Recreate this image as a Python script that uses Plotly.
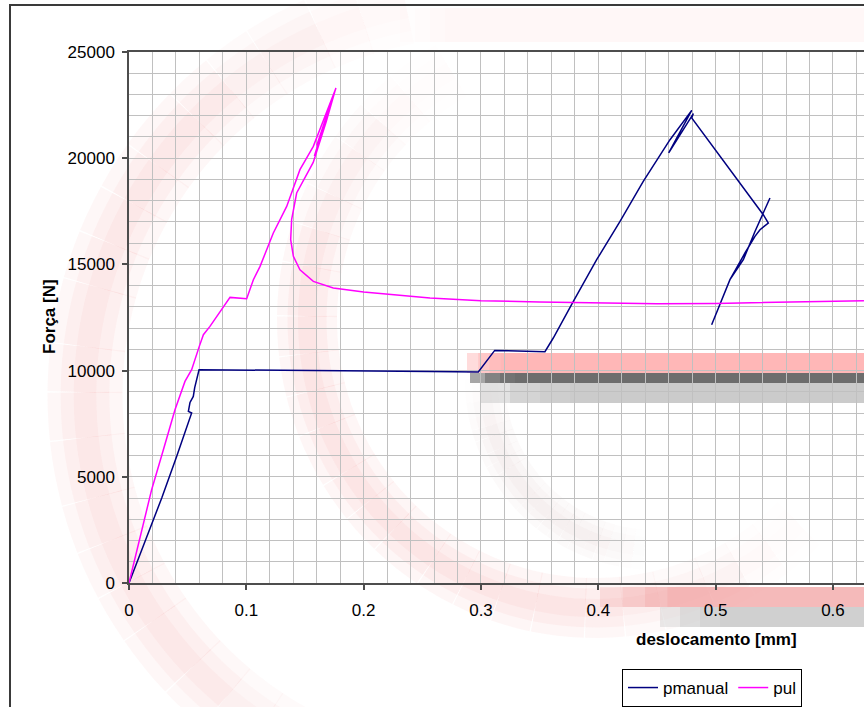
import numpy as np
import plotly.graph_objects as go

# ---- measured series -------------------------------------------------------
pmanual_x = [0.0, 0.0279, 0.0406, 0.0534, 0.0506, 0.0520, 0.0548, 0.0560, 0.0597,
             0.100, 0.150, 0.200, 0.2565, 0.2977, 0.3117, 0.3545, 0.3616, 0.3787,
             0.3986, 0.4185, 0.4383, 0.4611, 0.4796, 0.4600, 0.4810, 0.4796,
             0.5406, 0.5449, 0.5378, 0.5335, 0.5250, 0.5122, 0.4966, 0.5122,
             0.5236, 0.5335, 0.5463]
pmanual_y = [0, 4002, 5960, 8004, 8080, 8500, 8785, 9200, 10042,
             10030, 10020, 10000, 9962, 9934, 10951, 10890, 11535, 13258,
             15221, 17025, 18908, 20871, 22251, 20250, 22100, 21893,
             17340, 16949, 16634, 16319, 15537, 14280, 12161, 14280,
             15221, 16550, 18126]

pul_x = [0.0, 0.0193, 0.0293, 0.0392, 0.0477, 0.0534, 0.0599, 0.0634, 0.0690,
         0.0761, 0.0804, 0.0861, 0.1003, 0.1031, 0.1060, 0.1117, 0.1173, 0.1230,
         0.1344, 0.1457, 0.1571, 0.1685, 0.1764, 0.1600, 0.1745, 0.1580, 0.1755,
         0.1680, 0.1570, 0.1429, 0.1386, 0.1378, 0.1401, 0.1457, 0.1571, 0.1741,
         0.1884, 0.2000, 0.2565, 0.3000, 0.3500, 0.3787, 0.4200, 0.4500, 0.5000,
         0.5500, 0.6000, 0.6264]
pul_y = [0, 4393, 6276, 8159, 9492, 10042, 11140, 11690, 12081,
         12632, 13023, 13447, 13385, 13810, 14280, 14906, 15692, 16478,
         17731, 19459, 20556, 22128, 23305, 20600, 23000, 20100, 23150,
         21700, 19800, 18362, 17105, 16163, 15377, 14750, 14200, 13889,
         13776, 13700, 13418, 13290, 13230, 13210, 13170, 13150, 13160,
         13200, 13240, 13290]

x_ticks = [0, 0.1, 0.2, 0.3, 0.4, 0.5, 0.6]
x_tick_text = ["0", "0.1", "0.2", "0.3", "0.4", "0.5", "0.6"]
y_ticks = [0, 5000, 10000, 15000, 20000, 25000]
y_tick_text = ["0", "5000", "10000", "15000", "20000", "25000"]

# ---- page geometry ---------------------------------------------------------
W, H = 864, 707
L, T, B, R = 129, 52, 124, 0
PW, PH = W - L - R, H - T - B
FONT = "Liberation Sans, Arial, sans-serif"


def paper(px, py):
    return (px - L) / PW, (H - B - py) / PH


def poly_path(points):
    pts = [paper(x, y) for x, y in points]
    return "M " + " L ".join(f"{x:.4f},{y:.4f}" for x, y in pts)


def arc_points(cx, cy, r, a0, a1, n=80):
    th = np.radians(np.linspace(a0, a1, n))
    return [(cx + r * np.cos(t), cy + r * np.sin(t)) for t in th]


shapes = []


def soft_stroke(points, width, rgb, alpha, segs=24):
    # thick translucent band, tapered towards both ends
    n = len(points)
    for s in range(segs):
        i0 = s * (n - 1) // segs
        i1 = (s + 1) * (n - 1) // segs
        t = (s + 0.5) / segs
        taper = min(1.0, 4 * t, 4 * (1 - t))
        path = poly_path(points[i0:i1 + 1])
        for f in (1.0, 0.65, 0.3):
            shapes.append(dict(type="path", path=path, xref="paper", yref="paper",
                               layer="below",
                               line=dict(color=f"rgba({rgb},{alpha * taper:.3f})",
                                         width=width * f)))


def soft_rect(x0, x1, y0, y1, rgb, alpha, fade=0):
    steps = 4 if fade else 1
    a_step = 1 - (1 - alpha) ** (1 / steps)
    for i in range(steps):
        xs = x0 + fade * i / steps
        a0, b0 = paper(xs, y1)
        a1, b1 = paper(x1, y0)
        shapes.append(dict(type="rect", xref="paper", yref="paper", layer="below",
                           x0=a0, x1=a1, y0=b0, y1=b1, line=dict(width=0),
                           fillcolor=f"rgba({rgb},{a_step:.3f})"))


# faint watermark behind the chart
soft_stroke(arc_points(480, 395, 395, 95, 268), 75, "238,140,140", 0.065)
soft_stroke(arc_points(595, 320, 288, 45, 240), 60, "238,140,140", 0.075)
soft_stroke(arc_points(655, 380, 170, 90, 185), 40, "200,170,170", 0.06)
soft_rect(400, 864, 8, 42, "240,170,170", 0.10, fade=60)
soft_rect(467, 864, 353, 373, "255,175,175", 0.9, fade=45)
soft_rect(470, 864, 373, 383, "104,104,104", 0.97, fade=60)
soft_rect(480, 864, 383, 403, "200,200,200", 0.95, fade=120)
soft_rect(600, 864, 587, 607, "240,140,140", 0.6, fade=90)
soft_rect(660, 864, 607, 627, "198,198,198", 0.85, fade=80)

# outer chart frame
fx0, fy0 = paper(10, 5)
fx1, fy1 = paper(940, 760)
shapes.append(dict(type="rect", xref="paper", yref="paper", layer="above",
                   x0=fx0, y0=fy1, x1=fx1, y1=fy0,
                   line=dict(color="#3a3a3a", width=2), fillcolor="rgba(0,0,0,0)"))

fig = go.Figure()
fig.add_trace(go.Scatter(x=pmanual_x, y=pmanual_y, mode="lines", name="pmanual",
                         line=dict(color="#000080", width=1.5)))
fig.add_trace(go.Scatter(x=pul_x, y=pul_y, mode="lines", name="pul",
                         line=dict(color="#FF00FF", width=1.5)))

axis_common = dict(showline=True, linecolor="#4d4d4d", linewidth=1.5,
                   ticks="outside", ticklen=5, tickwidth=1.5, tickcolor="#4d4d4d",
                   gridcolor="#c0c0c0", gridwidth=1, zeroline=False,
                   tickfont=dict(family=FONT, size=17, color="#000"))

fig.update_xaxes(range=[0, PW / 1173.3], tickvals=x_ticks, ticktext=x_tick_text,
                 mirror=True, minor=dict(dtick=0.02, showgrid=True,
                                         gridcolor="#c0c0c0", gridwidth=1),
                 ticklabelstandoff=6, **axis_common)
fig.update_yaxes(range=[0, 25000], tickvals=y_ticks, ticktext=y_tick_text,
                 minor=dict(dtick=1000, showgrid=True, gridcolor="#c0c0c0", gridwidth=1),
                 ticklabelstandoff=4, **axis_common)

tx, ty = paper(716, 639)
yx, yy = paper(49, 317)
annotations = [
    dict(text="<b>deslocamento [mm]</b>", x=tx, y=ty, xref="paper", yref="paper",
         showarrow=False, xanchor="center", yanchor="middle",
         font=dict(family=FONT, size=17, color="#000")),
    dict(text="<b>Força [N]</b>", x=yx, y=yy, xref="paper", yref="paper",
         showarrow=False, xanchor="center", yanchor="middle", textangle=-90,
         font=dict(family=FONT, size=17, color="#000")),
]

lx, ly = paper(622, 669)
fig.update_layout(
    width=W, height=H,
    margin=dict(l=L, r=R, t=T, b=B, autoexpand=False),
    paper_bgcolor="white", plot_bgcolor="rgba(0,0,0,0)",
    shapes=shapes, annotations=annotations,
    showlegend=True,
    legend=dict(orientation="h", x=lx, y=ly, xanchor="left", yanchor="top",
                bgcolor="white", bordercolor="#000", borderwidth=1,
                font=dict(family=FONT, size=17, color="#000"),
                itemwidth=30, tracegroupgap=0),
)

fig.write_html("out.html")
